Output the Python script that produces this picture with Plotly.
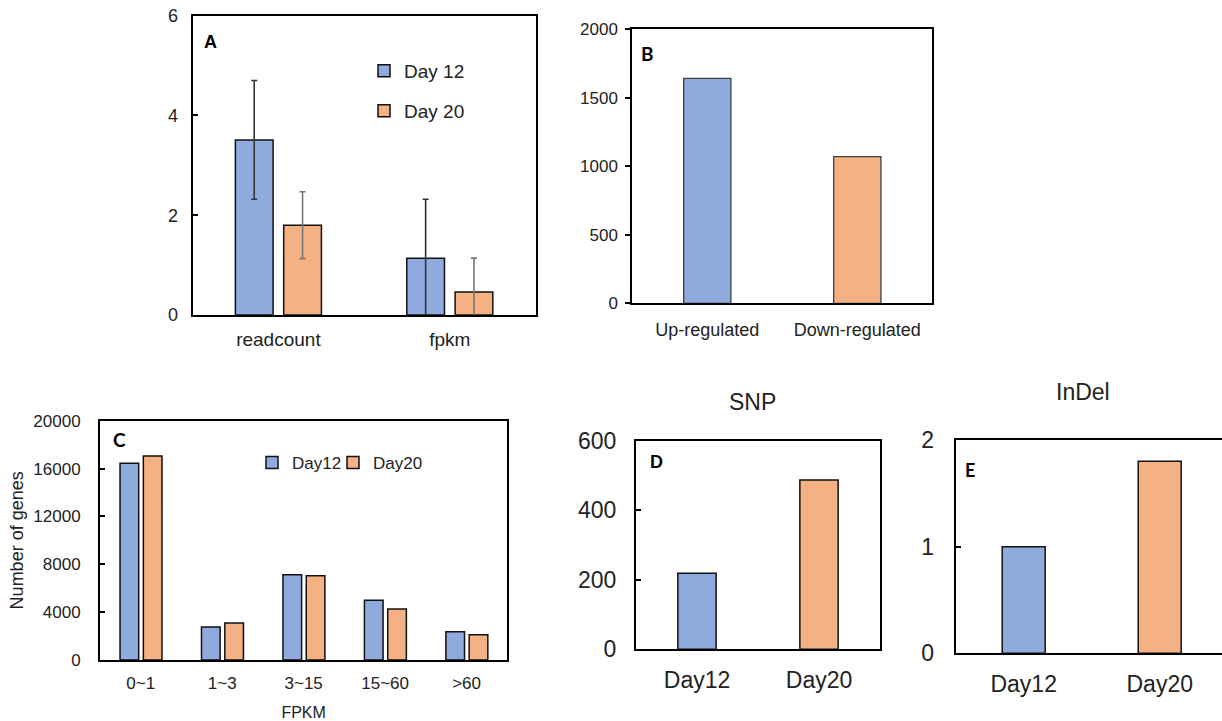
import plotly.graph_objects as go

W, H = 1222, 721

# ---------------- data ----------------
a_categories = ["readcount", "fpkm"]
a_day12 = [3.51, 1.14]
a_day12_err = [1.19, 1.18]
a_day20 = [1.80, 0.46]
a_day20_err = [0.67, 0.68]
a_series = ["Day 12", "Day 20"]

b_categories = ["Up-regulated", "Down-regulated"]
b_values = [1640, 1070]

c_categories = ["0~1", "1~3", "3~15", "15~60", ">60"]
c_day12 = [16440, 2760, 7130, 4990, 2370]
c_day20 = [17050, 3090, 7050, 4260, 2120]
c_series = ["Day12", "Day20"]

d_categories = ["Day12", "Day20"]
d_values = [219, 488]

e_categories = ["Day12", "Day20"]
e_values = [1.0, 1.8]

BLUE = "#8FAADC"
ORANGE = "#F4B183"
FONT = "Liberation Sans, Arial, sans-serif"
EDGE = "#111111"


def px_x(x):
    return x / W


def px_y(y):
    return 1 - y / H


fig = go.Figure()

# ---------------- Panel A ----------------
fig.add_trace(go.Bar(
    x=a_categories, y=a_day12, name=a_series[0], xaxis="x", yaxis="y",
    marker=dict(color=BLUE, line=dict(color=EDGE, width=1.5)),
    width=0.22, offset=-0.251,
    error_y=dict(type="data", array=a_day12_err, color="#333333", thickness=1.6, width=3),
    legend="legend",
))
fig.add_trace(go.Bar(
    x=a_categories, y=a_day20, name=a_series[1], xaxis="x", yaxis="y",
    marker=dict(color=ORANGE, line=dict(color=EDGE, width=1.5)),
    width=0.22, offset=0.031,
    error_y=dict(type="data", array=a_day20_err, color="#777777", thickness=1.6, width=3),
    legend="legend2",
))

# ---------------- Panel B ----------------
fig.add_trace(go.Bar(
    x=b_categories, y=b_values, xaxis="x2", yaxis="y2", showlegend=False,
    marker=dict(color=[BLUE, ORANGE], line=dict(color="#404040", width=1.3)),
    width=0.315,
))

# ---------------- Panel C ----------------
fig.add_trace(go.Bar(
    x=c_categories, y=c_day12, name=c_series[0], xaxis="x3", yaxis="y3",
    marker=dict(color=BLUE, line=dict(color=EDGE, width=1.5)),
    width=0.229, offset=-0.254, legend="legend3",
))
fig.add_trace(go.Bar(
    x=c_categories, y=c_day20, name=c_series[1], xaxis="x3", yaxis="y3",
    marker=dict(color=ORANGE, line=dict(color=EDGE, width=1.5)),
    width=0.229, offset=0.032, legend="legend4",
))

# ---------------- Panel D ----------------
fig.add_trace(go.Bar(
    x=d_categories, y=d_values, xaxis="x4", yaxis="y4", showlegend=False,
    marker=dict(color=[BLUE, ORANGE], line=dict(color=EDGE, width=1.5)),
    width=0.314,
))

# ---------------- Panel E ----------------
fig.add_trace(go.Bar(
    x=e_categories, y=e_values, xaxis="x5", yaxis="y5", showlegend=False,
    marker=dict(color=[BLUE, ORANGE], line=dict(color=EDGE, width=1.5)),
    width=0.316,
))


def xax(domain, anchor, size, standoff, rng, mirror=True):
    return dict(
        domain=domain, anchor=anchor, type="category", range=rng,
        showline=True, linecolor="black", linewidth=2, mirror=mirror,
        ticks="", showgrid=False, zeroline=False, fixedrange=True,
        tickfont=dict(family=FONT, size=size, color="#222222"),
        ticklabelstandoff=standoff,
    )


def yax(domain, anchor, size, rng, dtick, standoff, ticks="inside", mirror=True):
    return dict(
        domain=domain, anchor=anchor, range=rng, dtick=dtick, tickformat="d",
        showline=True, linecolor="black", linewidth=2, mirror=mirror,
        ticks=ticks, ticklen=5, tickcolor="black", tickwidth=1.5,
        showgrid=False, zeroline=False, fixedrange=True,
        tickfont=dict(family=FONT, size=size, color="#222222"),
        ticklabelstandoff=standoff,
    )


def leg(x, y, size):
    return dict(
        x=px_x(x), y=px_y(y), xanchor="left", yanchor="middle",
        orientation="v", bgcolor="rgba(0,0,0,0)",
        font=dict(family=FONT, size=size, color="#222222"),
    )


layout = dict(
    width=W, height=H,
    margin=dict(l=0, r=0, t=0, b=0, pad=0, autoexpand=False),
    paper_bgcolor="white", plot_bgcolor="white",
    barmode="overlay",
    font=dict(family=FONT, color="#222222"),
    xaxis=xax([px_x(192.7), px_x(535.5)], "y", 19, 6, [-0.5, 1.5]),
    yaxis=yax([px_y(315), px_y(15.7)], "x", 18, [0, 6], 2, 9),
    xaxis2=xax([px_x(632.3), px_x(932.3)], "y2", 18, 9, [-0.5, 1.5]),
    yaxis2=yax([px_y(303.3), px_y(29)], "x2", 17, [0, 2000], 500, 4, ticks="outside"),
    xaxis3=xax([px_x(100), px_x(507.3)], "y3", 17, 7, [-0.5, 4.5]),
    yaxis3=yax([px_y(660), px_y(420.7)], "x3", 17, [0, 20000], 4000, 14),
    xaxis4=xax([px_x(636), px_x(880)], "y4", 23, 9, [-0.5, 1.5]),
    yaxis4=yax([px_y(649.3), px_y(441)], "x4", 23, [0, 600], 200, 13),
    xaxis5=xax([px_x(955.7), 1.0], "y5", 23, 9, [-0.5, 1.458]),
    yaxis5=yax([px_y(653.3), px_y(440)], "x5", 23, [0, 2], 1, 15, mirror=False),
    legend=leg(364, 71, 19),
    legend2=leg(364, 111, 19),
    legend3=leg(252, 463, 17),
    legend4=leg(333, 463, 17),
)
layout["xaxis3"]["title"] = dict(text="FPKM", font=dict(family=FONT, size=16, color="#222222"), standoff=14)
layout["yaxis3"]["title"] = dict(text="Number of genes", font=dict(family=FONT, size=18, color="#222222"), standoff=5)

fig.update_layout(**layout)

# panel letters and titles
letters = [
    ("A", 210, 41.7, "Liberation Sans, Arial, sans-serif", 18),
    ("B", 647.3, 53.3, "Lato, Carlito, sans-serif", 19),
    ("C", 119, 440, "Lato, Carlito, sans-serif", 19),
    ("D", 656, 461.7, "Liberation Sans, Arial, sans-serif", 18),
    ("E", 970, 470, "Lato, Carlito, sans-serif", 18),
]
for txt, x, y, fam, sz in letters:
    fig.add_annotation(
        text="<b>%s</b>" % txt, x=px_x(x), y=px_y(y), xref="paper", yref="paper",
        xanchor="center", yanchor="middle", showarrow=False,
        font=dict(family=fam, size=sz, color="black"),
    )

for txt, x, y in [("SNP", 752, 401.7), ("InDel", 1082.7, 391.7)]:
    fig.add_annotation(
        text=txt, x=px_x(x), y=px_y(y), xref="paper", yref="paper",
        xanchor="center", yanchor="middle", showarrow=False,
        font=dict(family=FONT, size=23, color="#222222"),
    )

fig.write_html("out.html")
